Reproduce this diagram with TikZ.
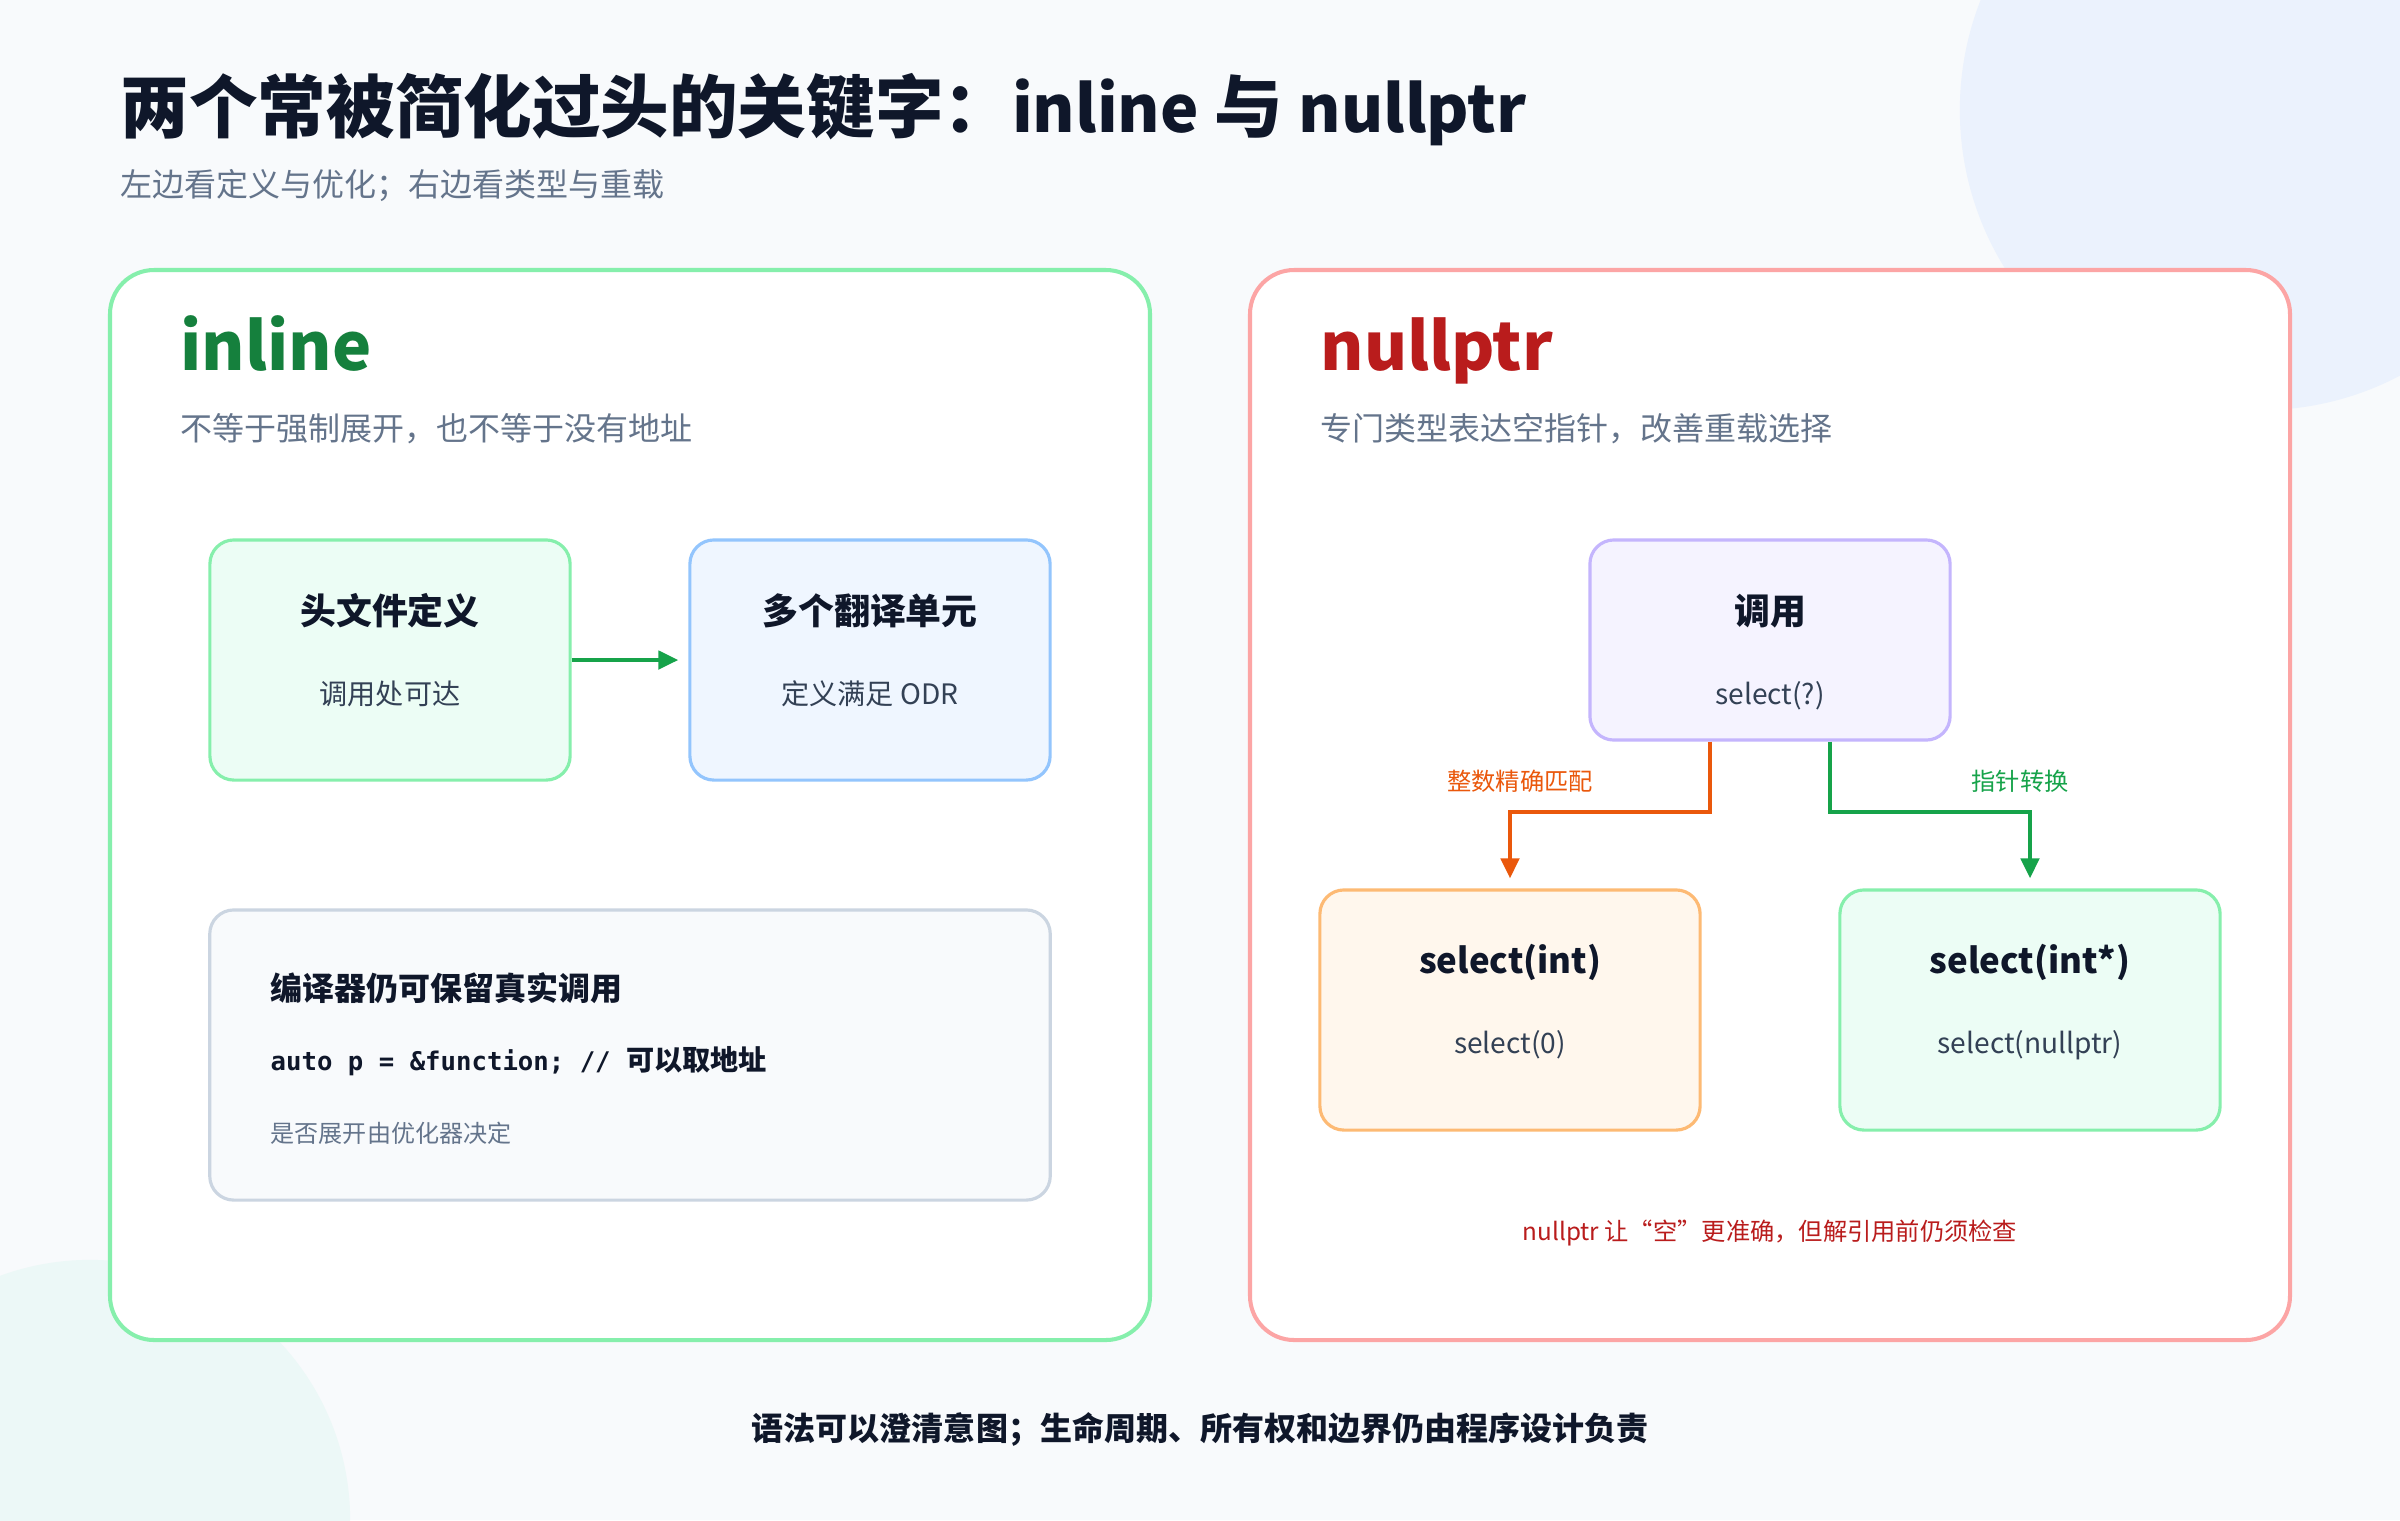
\documentclass[tikz,border=0pt]{standalone}
\usepackage{fontspec}
\setmainfont{Noto Sans CJK SC}
\newfontfamily\codefont{DejaVu Sans Mono}
\usetikzlibrary{arrows.meta}

\definecolor{fondo}{HTML}{F8FAFC}
\definecolor{circazul}{HTML}{EBF2FD}
\definecolor{circverde}{HTML}{ECF8F7}
\definecolor{tinta}{HTML}{0F172A}
\definecolor{pizarra}{HTML}{334155}
\definecolor{gris}{HTML}{64748B}
\definecolor{verdeb}{HTML}{86EFAC}
\definecolor{verdef}{HTML}{ECFDF5}
\definecolor{verdea}{HTML}{16A34A}
\definecolor{verdet}{HTML}{15803D}
\definecolor{azulb}{HTML}{93C5FD}
\definecolor{azulf}{HTML}{EFF6FF}
\definecolor{rosab}{HTML}{FCA5A5}
\definecolor{rojot}{HTML}{B91C1C}
\definecolor{lilab}{HTML}{C4B5FD}
\definecolor{lilaf}{HTML}{F5F3FF}
\definecolor{naranjab}{HTML}{FDBA74}
\definecolor{naranjaf}{HTML}{FFF7ED}
\definecolor{naranja}{HTML}{EA580C}
\definecolor{grisb}{HTML}{CBD5E1}

\newcommand{\fs}[1]{\fontsize{#1pt}{#1pt}\selectfont}

\tikzset{
  panel/.style={line width=1.15pt, rounded corners=0.44cm, fill=white},
  card/.style={line width=0.9pt, rounded corners=0.24cm, inner sep=0pt},
  cardtitle/.style={font=\fs{10.2}\bfseries, text=tinta, inner sep=0pt, anchor=base},
  cardsub/.style={font=\fs{8}, text=pizarra, inner sep=0pt, anchor=base},
  etiqueta/.style={font=\fs{6.9}, inner sep=0pt, anchor=base},
  conector/.style={line width=1.15pt, -{Triangle[length=5.7pt, width=5.2pt]}},
}

\begin{document}
\begin{tikzpicture}[x=0.01cm, y=-0.01cm]
    % Fondo y circulos decorativos
    \useasboundingbox (0,0) rectangle (2400,1520);
    \clip (0,0) rectangle (2400,1520);
    \fill[fondo] (0,0) rectangle (2400,1520);
    \fill[circazul] (2260,110) circle[radius=3cm];
    \fill[circverde] (90,1520) circle[radius=2.6cm];

    % Titulo y subtitulo
    \node[anchor=base west, inner sep=0pt, font=\fs{19.5}\bfseries, text=tinta] (titulo) at (120,132) {两个常被简化过头的关键字：{\fs{18.4}inline} 与 {\fs{18.4}nullptr}};
    \node[anchor=base west, inner sep=0pt, font=\fs{9.1}, text=gris] (subtitulo) at (120,196) {左边看定义与优化；右边看类型与重载};

    % Paneles
    \draw[panel, draw=verdeb] (110,270) rectangle (1150,1340);
    \draw[panel, draw=rosab] (1250,270) rectangle (2290,1340);

    % Panel izquierdo: inline
    \node[anchor=base west, inner sep=0pt, font=\fs{18.8}\bfseries, text=verdet] (inl) at (180,370) {inline};
    \node[anchor=base west, inner sep=0pt, font=\fs{9.1}, text=gris] (inl-sub) at (180,440) {不等于强制展开，也不等于没有地址};

    \node[card, draw=verdeb, fill=verdef, minimum width=3.6cm, minimum height=2.4cm] (cabecera) at (390,660) {};
    \node[cardtitle] (cabecera-t) at (390,624) {头文件定义};
    \node[cardsub] (cabecera-s) at (390,704) {调用处可达};

    \node[card, draw=azulb, fill=azulf, minimum width=3.6cm, minimum height=2.4cm] (unidades) at (870,660) {};
    \node[cardtitle] (unidades-t) at (870,624) {多个翻译单元};
    \node[cardsub] (unidades-s) at (870,704) {定义满足 ODR};

    \draw[conector, verdea] (cabecera.east) -- ([xshift=-0.1cm]unidades.west);

    \node[card, draw=grisb, fill=fondo, minimum width=8.4cm, minimum height=2.9cm] (compilador) at (630,1055) {};
    \node[anchor=base west, inner sep=0pt, font=\fs{9.1}\bfseries, text=tinta] (compilador-t) at (270,1000) {编译器仍可保留真实调用};
    \node[anchor=base west, inner sep=0pt, text=tinta] (compilador-c) at (270,1070) {{\codefont\bfseries\fs{7.3}auto p = \&function; // }{\fs{8}\bfseries 可以取地址}};
    \node[anchor=base west, inner sep=0pt, font=\fs{6.85}, text=gris] (compilador-n) at (270,1142) {是否展开由优化器决定};

    % Panel derecho: nullptr
    \node[anchor=base west, inner sep=0pt, font=\fs{18.8}\bfseries, text=rojot] (nul) at (1320,370) {nullptr};
    \node[anchor=base west, inner sep=0pt, font=\fs{9.1}, text=gris] (nul-sub) at (1320,440) {专门类型表达空指针，改善重载选择};

    \node[card, draw=lilab, fill=lilaf, minimum width=3.6cm, minimum height=2cm] (llamada) at (1770,640) {};
    \node[cardtitle] (llamada-t) at (1770,624) {调用};
    \node[cardsub] (llamada-s) at (1770,704) {select(?)};

    \node[card, draw=naranjab, fill=naranjaf, minimum width=3.8cm, minimum height=2.4cm] (entero) at (1510,1010) {};
    \node[cardtitle, font=\fs{9.9}\bfseries] (entero-t) at (1510,973) {select(int)};
    \node[cardsub] (entero-s) at (1510,1053) {select(0)};

    \node[card, draw=verdeb, fill=verdef, minimum width=3.8cm, minimum height=2.4cm] (puntero) at (2030,1010) {};
    \node[cardtitle, font=\fs{9.9}\bfseries] (puntero-t) at (2030,973) {select(int*)};
    \node[cardsub] (puntero-s) at (2030,1053) {select(nullptr)};

    % Conectores de la resolucion de sobrecarga
    \draw[conector, naranja] ([xshift=-0.6cm]llamada.south) -- ++(0,70) -| ([yshift=0.1cm]entero.north);
    \draw[conector, verdea] ([xshift=0.6cm]llamada.south) -- ++(0,70) -| ([yshift=0.1cm]puntero.north);
    \node[etiqueta, text=naranja] (lab-entero) at (1520,790) {整数精确匹配};
    \node[etiqueta, text=verdea] (lab-puntero) at (2020,790) {指针转换};

    \node[etiqueta, font=\fs{6.9}, text=rojot] (nota) at (1770,1240) {nullptr 让“空”更准确，但解引用前仍须检查};

    % Pie
    \node[anchor=base, inner sep=0pt, font=\fs{9.1}\bfseries, text=tinta] (pie) at (1200,1440) {语法可以澄清意图；生命周期、所有权和边界仍由程序设计负责};
\end{tikzpicture}
\end{document}
